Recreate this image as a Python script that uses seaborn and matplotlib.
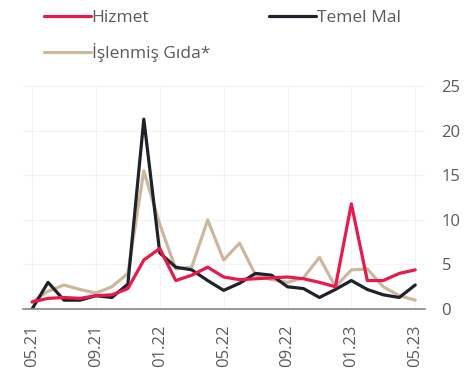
import pandas as pd
import matplotlib.pyplot as plt
import seaborn as sns

# Monthly values, 05.21 - 05.23
months = ['05.21', '06.21', '07.21', '08.21', '09.21', '10.21', '11.21', '12.21',
          '01.22', '02.22', '03.22', '04.22', '05.22', '06.22', '07.22', '08.22',
          '09.22', '10.22', '11.22', '12.22', '01.23', '02.23', '03.23', '04.23', '05.23']
hizmet = [0.8, 1.2, 1.3, 1.2, 1.5, 1.6, 2.3, 5.5,
          6.8, 3.2, 3.8, 4.7, 3.6, 3.3, 3.4, 3.5,
          3.6, 3.4, 3.0, 2.5, 11.8, 3.2, 3.2, 4.0, 4.4]
temel_mal = [0.0, 3.0, 1.0, 1.0, 1.5, 1.3, 2.8, 21.3,
             6.3, 4.7, 4.4, 3.2, 2.1, 2.9, 4.0, 3.8,
             2.5, 2.3, 1.3, 2.2, 3.2, 2.2, 1.6, 1.3, 2.7]
islenmis_gida = [0.8, 2.0, 2.7, 2.2, 1.8, 2.5, 4.0, 15.5,
                 9.5, 4.5, 4.7, 10.0, 5.5, 7.4, 3.8, 3.3,
                 3.0, 3.5, 5.8, 2.5, 4.4, 4.5, 2.5, 1.5, 1.0]
tick_labels = ['05.21', '09.21', '01.22', '05.22', '09.22', '01.23', '05.23']

series = {'Hizmet': hizmet, 'Temel Mal': temel_mal, 'İşlenmiş Gıda*': islenmis_gida}
colors = {'Hizmet': '#e8194b', 'Temel Mal': '#1e232b', 'İşlenmiş Gıda*': '#cdb89e'}

df = pd.concat([pd.DataFrame({'idx': range(len(months)), 'value': v, 'seri': k})
                for k, v in series.items()])

sns.set_style('white')
plt.rcParams['font.family'] = ['Open Sans', 'DejaVu Sans']

fig = plt.figure(figsize=(4.72, 3.83), dpi=100)
ax = fig.add_axes([0.049, 0.193, 0.851, 0.582])

# tan first, red on top
for name in ['İşlenmiş Gıda*', 'Temel Mal', 'Hizmet']:
    sns.lineplot(data=df[df['seri'] == name], x='idx', y='value', color=colors[name],
                 linewidth=2.3, ax=ax, label=name, solid_joinstyle='round')

ax.set_xlim(-0.56, 24.6)
ax.set_ylim(0, 25)
ax.set_xticks([months.index(t) for t in tick_labels])
ax.set_xticklabels(tick_labels, rotation=90, fontsize=12, color='#5a5a5a')
ax.set_yticks([0, 5, 10, 15, 20, 25])
ax.yaxis.tick_right()
ax.tick_params(axis='y', labelsize=12, labelcolor='#5a5a5a', length=0, pad=12)
ax.tick_params(axis='x', length=0, pad=11)
ax.set_xlabel('')
ax.set_ylabel('')
ax.grid(True, color='#f3f3f3', linewidth=0.8)
for s in ['top', 'right', 'left']:
    ax.spines[s].set_visible(False)
ax.spines['bottom'].set_color('#888888')
ax.spines['bottom'].set_linewidth(1.2)

ax.get_legend().remove()
handles, labels = ax.get_legend_handles_labels()
order = [labels.index(n) for n in ['Hizmet', 'İşlenmiş Gıda*', 'Temel Mal']]
leg = fig.legend([handles[i] for i in order], [labels[i] for i in order],
                 loc='upper left', bbox_to_anchor=(0.06, 1.015), ncol=2, frameon=False,
                 fontsize=12.5, handlelength=2.7, handletextpad=0.05, columnspacing=3.4,
                 labelspacing=1.0)
for t in leg.get_texts():
    t.set_color('#5a5a5a')

fig.savefig('out.png', dpi=100)
